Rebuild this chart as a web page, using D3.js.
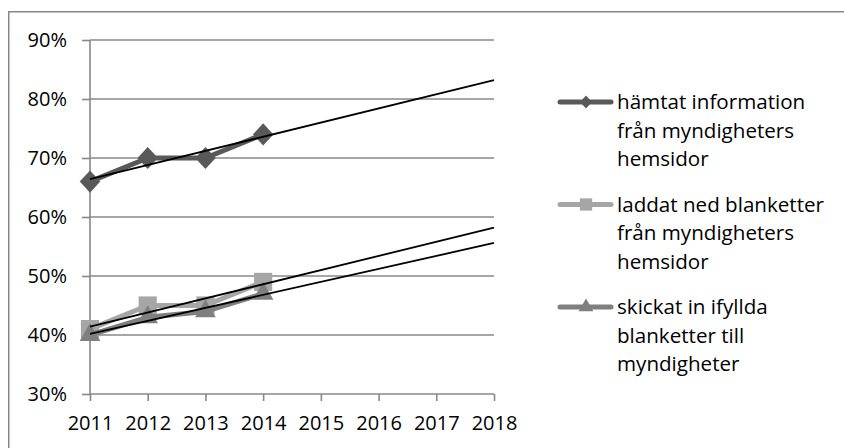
<!DOCTYPE html>
<html>
<head>
<meta charset="utf-8">
<script src="https://cdn.jsdelivr.net/npm/d3@7"></script>
<style>
  html, body { margin: 0; padding: 0; background: #fff; }
  svg { display: block; }
  text { font-family: "Open Sans", "Noto Sans", sans-serif; fill: #000; }
</style>
</head>
<body>
<svg id="chart" width="844" height="448"></svg>
<script>
// Survey years with observed values
const years = [2011, 2012, 2013, 2014];
// Axis extent (trend lines projected forward)
const axisYears = [2011, 2012, 2013, 2014, 2015, 2016, 2017, 2018];
const yTicks = [0.3, 0.4, 0.5, 0.6, 0.7, 0.8, 0.9];

const seriesNames = [
  ["hämtat information", "från myndigheters", "hemsidor"],
  ["laddat ned blanketter", "från myndigheters", "hemsidor"],
  ["skickat in ifyllda", "blanketter till", "myndigheter"]
];
const hamtat  = [0.66, 0.70, 0.70, 0.74];
const laddat  = [0.41, 0.45, 0.45, 0.49];
const skickat = [0.40, 0.43, 0.44, 0.47];

const seriesValues = [hamtat, laddat, skickat];
const seriesColors = ["#595959", "#a6a6a6", "#7f7f7f"];

// Square-proportioned diamond (d3's built-in one is narrow)
const wideDiamond = {
  draw(ctx, size) {
    const r = Math.sqrt(size / 2);
    ctx.moveTo(0, -r * 1.08);
    ctx.lineTo(r, 0);
    ctx.lineTo(0, r * 1.08);
    ctx.lineTo(-r, 0);
    ctx.closePath();
  }
};
const seriesSymbols = [wideDiamond, d3.symbolSquare, d3.symbolTriangle];
const markerSizes = [210, 330, 185];
const legendMarkerSizes = [72, 150, 95];

const svg = d3.select("#chart");
const gridColor = "#888888";

// Chart area frame
svg.append("rect")
  .attr("x", 8.75).attr("y", 11.75)
  .attr("width", 900).attr("height", 500)
  .attr("fill", "none").attr("stroke", gridColor).attr("stroke-width", 1.5);

const x = d3.scaleLinear().domain([2011, 2018]).range([90, 494]);
const y = d3.scaleLinear().domain([0.3, 0.9]).range([394, 40]);

// Horizontal gridlines
svg.append("g").selectAll("line")
  .data(yTicks.filter(t => t > 0.3))
  .join("line")
  .attr("x1", x(2011)).attr("x2", x(2018))
  .attr("y1", d => y(d)).attr("y2", d => y(d))
  .attr("stroke", gridColor).attr("stroke-width", 1.6);

// Y axis
const yAxis = d3.axisLeft(y).tickValues(yTicks)
  .tickFormat(d => Math.round(d * 100) + "%")
  .tickSize(8).tickPadding(15);
const gy = svg.append("g").attr("transform", `translate(${x(2011)},0)`).call(yAxis);
gy.select(".domain").remove();
gy.selectAll(".tick line").attr("stroke", gridColor).attr("stroke-width", 1.6);
gy.append("line").attr("x1", 0).attr("x2", 0).attr("y1", y(0.3)).attr("y2", y(0.9))
  .attr("stroke", gridColor).attr("stroke-width", 1.6);
gy.selectAll(".tick text").attr("font-size", 20).attr("fill", "#000")
  .attr("font-family", '"Open Sans", sans-serif');

// X axis
const xAxis = d3.axisBottom(x).tickValues(axisYears).tickFormat(d3.format("d"))
  .tickSize(7).tickPadding(15);
const gx = svg.append("g").attr("transform", `translate(0,${y(0.3)})`).call(xAxis);
gx.select(".domain").remove();
gx.selectAll(".tick line").attr("stroke", gridColor).attr("stroke-width", 1.6);
gx.append("line").attr("x1", x(2011)).attr("x2", x(2018)).attr("y1", 0).attr("y2", 0)
  .attr("stroke", gridColor).attr("stroke-width", 1.6);
gx.selectAll(".tick text").attr("font-size", 20).attr("fill", "#000")
  .attr("font-family", '"Open Sans", sans-serif');

// Series lines and markers
const line = d3.line().x((d, i) => x(years[i])).y(d => y(d));
seriesValues.forEach((vals, s) => {
  const g = svg.append("g");
  g.append("path").datum(vals).attr("d", line)
    .attr("fill", "none").attr("stroke", seriesColors[s])
    .attr("stroke-width", 5).attr("stroke-linejoin", "round");
  g.selectAll("path.m").data(vals).join("path").attr("class", "m")
    .attr("d", d3.symbol(seriesSymbols[s], markerSizes[s]))
    .attr("transform", (d, i) => `translate(${x(years[i])},${y(d)})`)
    .attr("fill", seriesColors[s]);
});

// Linear least-squares trend for each series, projected to 2018
function trend(vals) {
  const mx = d3.mean(years), my = d3.mean(vals);
  let sxy = 0, sxx = 0;
  years.forEach((yr, i) => { sxy += (yr - mx) * (vals[i] - my); sxx += (yr - mx) ** 2; });
  const b = sxy / sxx, a = my - b * mx;
  return t => a + b * t;
}
seriesValues.forEach(vals => {
  const f = trend(vals);
  svg.append("line")
    .attr("x1", x(2011)).attr("y1", y(f(2011)))
    .attr("x2", x(2018)).attr("y2", y(f(2018)))
    .attr("stroke", "#000").attr("stroke-width", 1.8);
});

// Legend
const legendTop = [102, 204.5, 307];
const rowGap = 28.5;
seriesNames.forEach((lines, s) => {
  const g = svg.append("g").attr("transform", `translate(0,${legendTop[s]})`);
  g.append("line").attr("x1", 560).attr("x2", 611).attr("y1", 0).attr("y2", 0)
    .attr("stroke", seriesColors[s]).attr("stroke-width", 5).attr("stroke-linecap", "round");
  g.append("path").attr("d", d3.symbol(seriesSymbols[s], legendMarkerSizes[s]))
    .attr("transform", "translate(586,0)").attr("fill", seriesColors[s]);
  const txt = g.append("text").attr("font-size", 20.6);
  lines.forEach((l, i) => {
    txt.append("tspan").attr("x", 617).attr("y", 7 + i * rowGap).text(l);
  });
});
</script>
</body>
</html>
